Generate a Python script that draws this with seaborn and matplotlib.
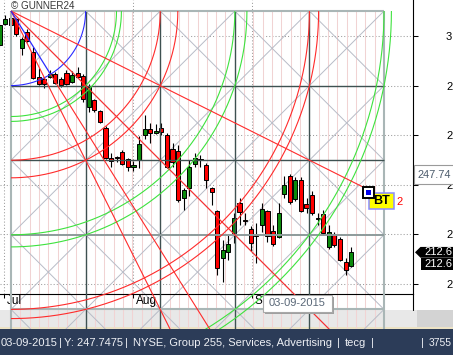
import numpy as np
import matplotlib
matplotlib.use("Agg")
import matplotlib.pyplot as plt
import matplotlib.transforms as mtransforms
from matplotlib.patches import Rectangle, Polygon
import seaborn as sns

# ---------------- data ----------------
opens = [296.4, 304.9, 307.1, 306.9, 295.2, 301.6, 293.7, 283.4, 282.8, 283.4,
         284.7, 282.6, 284.9, 281.5, 285.1, 284.0, 271.3, 274.0, 269.5, 263.0,
         250.8, 251.0, 253.0, 250.3, 247.0, 249.9, 260.0, 262.3, 260.9, 262.7,
         260.0, 254.2, 253.6, 234.4, 238.5, 248.3, 250.3, 247.9, 238.6, 229.3,
         210.2, 212.9, 220.3, 232.7, 225.6, 222.0, 219.4, 223.7, 229.3, 221.4,
         218.8, 236.1, 243.5, 234.0, 241.8, 232.1, 235.8, 226.5, 228.0, 214.6,
         220.0, 218.0, 208.8, 207.1]
highs = [305.7, 308.5, 308.5, 307.3, 299.6, 303.0, 295.7, 287.1, 283.4, 286.3,
         285.5, 283.4, 286.3, 285.9, 287.6, 284.7, 280.6, 274.6, 270.1, 263.7,
         252.7, 251.5, 254.0, 250.7, 249.5, 259.6, 268.1, 264.9, 264.5, 264.7,
         260.7, 256.8, 256.0, 238.6, 249.9, 252.7, 251.9, 248.7, 239.0, 229.7,
         217.6, 219.6, 228.5, 234.7, 228.5, 223.3, 224.5, 232.7, 229.7, 223.7,
         232.7, 243.5, 244.3, 243.2, 243.0, 234.4, 237.4, 228.6, 229.7, 223.7,
         220.8, 218.8, 210.2, 214.6]
lows = [295.6, 304.5, 304.1, 300.0, 292.3, 297.6, 282.6, 280.2, 279.0, 283.0,
        280.6, 279.2, 280.2, 281.0, 283.0, 273.5, 269.3, 269.3, 264.7, 250.3,
        247.1, 249.2, 247.9, 245.5, 245.6, 246.7, 258.3, 256.8, 260.4, 260.0,
        246.7, 247.0, 232.9, 229.7, 235.4, 247.1, 247.1, 238.6, 231.7, 203.5,
        200.7, 209.5, 216.4, 223.7, 223.7, 213.3, 208.3, 220.9, 216.9, 215.2,
        218.4, 234.6, 232.1, 233.4, 228.9, 228.5, 227.7, 223.7, 219.6, 214.0,
        214.8, 209.1, 203.5, 206.7]
closes = [304.4, 306.9, 304.5, 300.8, 298.6, 298.0, 282.9, 280.6, 280.6, 284.8,
          281.2, 280.4, 280.6, 284.3, 283.4, 274.4, 279.6, 270.1, 265.3, 250.6,
          249.4, 250.6, 248.3, 247.0, 247.9, 256.4, 262.4, 261.0, 261.8, 261.1,
          247.1, 248.9, 233.8, 237.8, 247.1, 250.7, 249.9, 241.8, 237.1, 206.2,
          213.6, 216.0, 226.4, 229.0, 225.3, 216.3, 219.0, 230.1, 219.2, 216.0,
          228.6, 239.8, 232.8, 241.8, 229.3, 230.4, 228.4, 226.2, 220.3, 220.9,
          215.6, 209.5, 205.5, 212.6]
month_ticks = [0.8, 24.0, 45.2]
month_labels = ["Jul", "Aug", "S"]
price_ticks = [200, 220, 240, 260, 280, 300]
price_tick_labels = ["2", "2", "2", "2", "2", "3"]      # only first digit is visible
cursor_bar = 47
cursor_date = "03-09-2015"
cursor_price_label = "247.74"
last_price_labels = ["212.6", "212.6"]
status_items = ["03-09-2015", "|", "Y: 247.7475", "|",
                "NYSE, Group 255, Services, Advertising", "|", "tecg", "|", "|", "3755"]
status_x_px = [0.5, 59, 64, 125.5, 133, 336.5, 345, 371, 421, 429]

# ---------------- figure ----------------
W, H = 453, 355
sns.set_theme(style="white")
plt.rcParams['font.family'] = ['Liberation Sans', 'DejaVu Sans']

fig = plt.figure(figsize=(W / 100, H / 100), dpi=100)
fig.patch.set_facecolor('white')
AX_R, AX_B = 413.3, 294.3
ax = fig.add_axes([0, 1 - AX_B / H, AX_R / W, AX_B / H])
ax.set_facecolor('white')
ax.set_xlim(0.09, 74.13)
ax.set_ylim(195.64, 314.55)
ID = mtransforms.IdentityTransform()

# dotted grid
for p in price_ticks:
    ax.axhline(p, color='#9c9c9c', lw=0.75, ls=(0, (1, 2)), zorder=0.8)
for m in month_ticks:
    ax.axvline(m, color='#9c9c9c', lw=0.75, ls=(0, (1, 2)), zorder=0.8)

# candles
o = np.array(opens); c = np.array(closes); hi = np.array(highs); lo = np.array(lows)
idx = np.arange(len(o))
cols = np.where(c >= o, '#0b8a0b', '#ff0000')
ax.vlines(idx, lo, hi, color='black', lw=0.8, zorder=3)
ax.bar(idx, np.maximum(np.abs(c - o), 0.3), bottom=np.minimum(o, c), width=0.74,
       color=cols, edgecolor='black', linewidth=0.7, zorder=3.1)

# ---------------- Gann overlay ----------------
X0, Y0 = 2.06, 310.1        # origin of square (bar index, price)
CW, CH = 13.365, 30.14      # one square in bars / price
clip_box = mtransforms.Bbox.from_extents(0, H - 328.5, AX_R, H)


def G(u, v):
    return X0 + np.asarray(u, float) * CW, Y0 - np.asarray(v, float) * CH


def overlay(u, v, **kw):
    x, y = G(u, v)
    ln, = ax.plot(x, y, solid_capstyle='butt', **kw)
    ln.set_clip_box(clip_box)
    return ln


# time divisions
for k in range(1, 40):
    if k % 8:
        overlay([k / 8] * 2, [0, 5], color='#f1d3d3', lw=0.75, zorder=1)
# cell diagonals
for a in range(5):
    for b in range(5):
        overlay([a, a + 1], [b, b + 1], color='#b8bcc7', lw=0.7, zorder=2)
        overlay([a + 1, a], [b, b + 1], color='#b8bcc7', lw=0.7, zorder=2)
LIGHT, DARK, MID = '#a9b6b6', '#3e5151', '#8e9b9b'
for u in range(6):
    light = u in (0, 5)
    overlay([u, u], [0, 5], color=LIGHT if light else DARK, lw=1.5 if light else 1.0, zorder=4)
for v, colr, lw in [(0, LIGHT, 1.5), (1, DARK, 1.0), (2, DARK, 1.0), (3, MID, 1.4), (4, LIGHT, 1.5)]:
    overlay([0, 5], [v, v], color=colr, lw=lw, zorder=4)

RED, GREEN, BLUE = '#ff2b2b', '#3ee23e', '#2a2aff'
t = np.linspace(0, np.pi / 2, 300)
arcs = [(1, BLUE), (np.sqrt(2), GREEN), (1.48, GREEN), (2, RED), (np.sqrt(5), RED),
        (3, GREEN), (np.sqrt(10), GREEN), (4, RED), (np.sqrt(17), RED),
        (5, GREEN), (np.sqrt(26), GREEN)]
for r, colr in arcs:
    overlay(r * np.cos(t), r * np.sin(t), color=colr, lw=0.8, zorder=5)

ang = np.deg2rad(58)
overlay([0, 8], [0, 8], color=RED, lw=0.8, zorder=5)          # 1x1
overlay([0, 4], [0, 8], color=RED, lw=0.8, zorder=5)          # 1x2
END = (4.72, 2.36)
overlay([0, END[0]], [0, END[1]], color=RED, lw=0.8, zorder=5)  # 2x1 to BT
overlay([np.cos(ang), 8 * np.cos(ang)], [np.sin(ang), 8 * np.sin(ang)], color=RED, lw=0.8, zorder=5)
overlay([0, np.cos(ang)], [0, np.sin(ang)], color=BLUE, lw=0.9, zorder=6)

# ---------------- axes styling ----------------
for s in ['top', 'left']:
    ax.spines[s].set_visible(False)
for s in ['right', 'bottom']:
    ax.spines[s].set_color('black')
    ax.spines[s].set_linewidth(0.8)
ax.yaxis.tick_right()
ax.set_yticks(price_ticks)
ax.set_yticklabels(price_tick_labels)
ax.tick_params(axis='y', right=True, left=False, labelright=True, labelleft=False,
               direction='out', length=3.6, width=0.75, color='black', pad=19.9,
               labelsize=8, labelcolor='black')
ax.set_xticks(month_ticks)
ax.set_xticklabels([])
ax.tick_params(axis='x', bottom=True, direction='out', length=3, width=0.75, color='black')
for m, lab in zip(month_ticks, month_labels):
    ax.annotate(lab, xy=(m, 0), xycoords=('data', 'axes fraction'), xytext=(3, -0.5),
                textcoords='offset pixels', ha='left', va='top', fontsize=8.5,
                color='black', annotation_clip=False)

# right axis line continuation
fig.add_artist(plt.Line2D([AX_R, AX_R], [H - AX_B, H - 310], transform=ID, color='black', lw=0.8))

# ---------------- bottom bands / status bar ----------------
fig.add_artist(Rectangle((0, H - 326.5), W, 16.5, transform=ID, fc='#e8e8e8', ec='none', zorder=-1))
fig.add_artist(Rectangle((417, H - 326.5), 36, 16.5, transform=ID, fc='#d3d3d3', ec='none', zorder=-1))
fig.add_artist(Rectangle((0, H - 328.5), W, 2, transform=ID, fc='#ece2c4', ec='none', zorder=-1))
fig.add_artist(Rectangle((0, 0), W, H - 328.5, transform=ID, fc='#2c3c58', ec='none', zorder=-1))
for s, xp in zip(status_items, status_x_px):
    fig.text(xp, H - 343, s, transform=ID, va='center', ha='left',
             fontsize=7.5 if s == "3755" else 8, color='#eef0f5', zorder=-0.5)

# cursor date box
xl = ax.transData.transform((cursor_bar, 0))[0] + 1
fig.add_artist(Rectangle((xl + 2, H - 311.7 - 2), 69, 16.7, transform=ID, fc='#a0a0a0', ec='none', zorder=6))
fig.add_artist(Rectangle((xl, H - 311.7), 69, 16.7, transform=ID, fc='white', ec='#a8a8a8', lw=0.8, zorder=6.1))
fig.text(xl + 34.5, H - 303.3, cursor_date, transform=ID, ha='center', va='center',
         fontsize=8, color='#5a6878', zorder=6.2)

# cursor price label (top edge at the cursor price)
yc = ax.transData.transform((0, float(cursor_price_label)))[1]
fig.add_artist(Rectangle((414, yc - 18.5), 40, 18.5, transform=ID, fc='white', ec='#9a9a9a', lw=0.8, zorder=6))
fig.text(418, yc - 9.3, cursor_price_label, transform=ID, ha='left', va='center',
         fontsize=7.9, color='#4b5a6b', zorder=6.2)

# last price labels
yl = ax.transData.transform((0, closes[-1]))[1]
fig.add_artist(Polygon([(415, yl), (420.5, yl + 5.4), (454, yl + 5.4), (454, yl - 5.4), (420.5, yl - 5.4)],
                       closed=True, transform=ID, fc='black', ec='none', zorder=6))
fig.add_artist(Rectangle((421, yl - 18), 33, 12.4, transform=ID, fc='black', ec='none', zorder=6))
fig.text(424.5, yl, last_price_labels[0], transform=ID, ha='left', va='center', fontsize=8,
         color='white', zorder=6.2)
fig.text(424.5, yl - 11.8, last_price_labels[1], transform=ID, ha='left', va='center', fontsize=8,
         color='white', zorder=6.2)

# BT marker at end of 2x1 line
ex, ey = ax.transData.transform(np.column_stack(G(END[0], END[1])))[0]
fig.add_artist(Rectangle((ex + 6, ey - 22.3), 24.7, 16.4, transform=ID, fc='#ffff00', ec='#8a8aff', lw=1.1, zorder=7))
fig.text(ex + 18.3, ey - 14.2, "BT", transform=ID, ha='center', va='center', fontsize=9,
         fontweight='bold', color='black', zorder=7.2)
fig.text(ex + 33.5, ey - 14.5, "2", transform=ID, ha='left', va='center', fontsize=8,
         color='#ff0000', zorder=7.2)
fig.add_artist(Rectangle((ex, ey - 11), 11, 11, transform=ID, fc='white', ec='black', lw=1.4, zorder=7.5))
fig.add_artist(Rectangle((ex + 2.8, ey - 8.2), 5.4, 5.4, transform=ID, fc='#0000ee', ec='none', zorder=7.6))

# watermark
fig.text(11, H - 6, "\u00a9 GUNNER24", transform=ID, ha='left', va='center', fontsize=7.1,
         color='#383838', zorder=8)

fig.savefig('out.png', dpi=100, facecolor='white')
